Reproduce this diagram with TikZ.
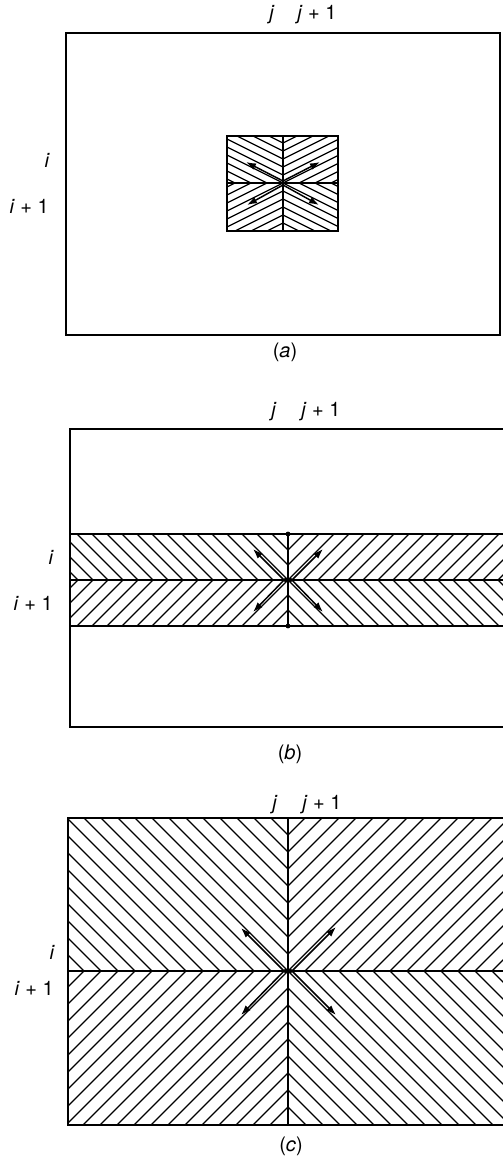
\documentclass[tikz,border=0pt]{standalone}
\usepackage{fontspec}
\setmainfont{TeX Gyre Heros}
\usetikzlibrary{arrows.meta}
\newcommand{\hatchq}[8]{%
  \begin{scope}
    \clip (#1,#2) rectangle ({#1+#3*#5},{#2+#4*#6});
    \pgfmathtruncatemacro\kmin{-floor(#7*#5/#8)-1}
    \pgfmathtruncatemacro\kmax{ceil(#6/#8)+1}
    \foreach \k in {\kmin,...,\kmax}{
      \draw[hatch] (#1,{#2+#4*\k*#8}) -- ({#1+#3*#5},{#2+#4*(\k*#8+#7*#5)});
    }
  \end{scope}}
\begin{document}
\begin{tikzpicture}[x=1pt,y=-1pt,
  frame/.style={draw,line width=1.7pt},
  hatch/.style={line width=1.2pt},
  axisline/.style={line width=1.4pt},
  flow/.style={line width=1.5pt,-{Latex[length=10pt,width=7pt]}},
  lab/.style={inner sep=0pt,font=\fontsize{20}{22}\selectfont},
  captext/.style={inner sep=0pt,font=\fontsize{20}{22}\selectfont}]
\useasboundingbox (0,0) rectangle (503,1159);
\begin{scope}
\clip (0,0) rectangle (503,1159);
% ---------- (a) ----------
\draw[frame] (66,33) rectangle (500,335);
\hatchq{283}{183}{-1}{-1}{56}{47}{0.5}{8}
\hatchq{283}{183}{1}{-1}{55}{47}{0.5}{8}
\hatchq{283}{183}{-1}{1}{56}{48}{0.5}{8}
\hatchq{283}{183}{1}{1}{55}{48}{0.5}{8}
\draw[frame] (227,136) rectangle (338,231);
\draw[axisline] (283,136) -- (283,231);
\draw[axisline] (227,183) -- (338,183);
\coordinate (ca) at (283,183);
\coordinate (aul) at (246,164);
\coordinate (aur) at (320,164);
\coordinate (all) at (247,203);
\coordinate (alr) at (319,203);
\draw[flow] ([shift={(0,-2)}]ca) -- ([shift={(0,-2)}]aul);
\draw[flow] ([shift={(0,-2)}]ca) -- ([shift={(0,-2)}]aur);
\draw[flow] ([shift={(0,2)}]ca) -- ([shift={(0,2)}]all);
\draw[flow] ([shift={(0,2)}]ca) -- ([shift={(0,2)}]alr);
\node[lab] (aj) at (272,15) {\textit{j}};
\node[lab] (aj1) at (317,15) {\textit{j} + 1};
\node[lab,anchor=east] (ai) at (50,160) {\textit{i}};
\node[lab,anchor=east] (ai1) at (49,206) {\textit{i} + 1};
\node[captext] (capa) at (285,352) {(\textit{a})};
% ---------- (b) ----------
\draw[frame] (530,429) -- (70,429) -- (70,727) -- (530,727);
\hatchq{288}{580}{-1}{-1}{218}{46}{1}{15}
\hatchq{288}{580}{1}{-1}{240}{46}{1}{15}
\hatchq{288}{580}{-1}{1}{218}{46}{1}{15}
\hatchq{288}{580}{1}{1}{240}{46}{1}{15}
\draw[frame] (530,534) -- (70,534) -- (70,626) -- (530,626);
\draw[axisline] (70,580) -- (530,580);
\draw[axisline] (288,534) -- (288,626);
\fill (288,534) circle (2.4);
\fill (288,626) circle (2.4);
\coordinate (cb) at (288,580);
\coordinate (bul) at (255,547);
\coordinate (bur) at (321,547);
\coordinate (bll) at (255,614);
\coordinate (blr) at (321,614);
\draw[flow] ([shift={(-2,2)}]cb) -- ([shift={(-2,2)}]bul);
\draw[flow] ([shift={(2,2)}]cb) -- ([shift={(2,2)}]bur);
\draw[flow] ([shift={(-2,-2)}]cb) -- ([shift={(-2,-2)}]bll);
\draw[flow] ([shift={(2,-2)}]cb) -- ([shift={(2,-2)}]blr);
\node[lab] (bj) at (274,412) {\textit{j}};
\node[lab] (bj1) at (321,412) {\textit{j} + 1};
\node[lab,anchor=east] (bi) at (54,557) {\textit{i}};
\node[lab,anchor=east] (bi1) at (53,603) {\textit{i} + 1};
\node[captext] (capb) at (290,754) {(\textit{b})};
% ---------- (c) ----------
\hatchq{288}{971}{-1}{-1}{220}{153}{1}{17}
\hatchq{288}{971}{1}{-1}{240}{153}{1}{17}
\hatchq{288}{971}{-1}{1}{220}{154}{1}{17}
\hatchq{288}{971}{1}{1}{240}{154}{1}{17}
\draw[frame] (530,818) -- (68,818) -- (68,1125) -- (530,1125);
\draw[axisline] (68,971) -- (530,971);
\draw[axisline] (288,818) -- (288,1125);
\coordinate (cc) at (288,971);
\coordinate (cul) at (243,926);
\coordinate (cur) at (334,925);
\coordinate (cll) at (243,1017);
\coordinate (clr) at (334,1017);
\draw[flow] ([shift={(-2,2)}]cc) -- ([shift={(-2,2)}]cul);
\draw[flow] ([shift={(2,2)}]cc) -- ([shift={(2,2)}]cur);
\draw[flow] ([shift={(-2,-2)}]cc) -- ([shift={(-2,-2)}]cll);
\draw[flow] ([shift={(2,-2)}]cc) -- ([shift={(2,-2)}]clr);
\node[lab] (cj) at (275,805) {\textit{j}};
\node[lab] (cj1) at (322,805) {\textit{j} + 1};
\node[lab,anchor=east] (ci) at (55,952) {\textit{i}};
\node[lab,anchor=east] (ci1) at (54,988) {\textit{i} + 1};
\node[captext] (capc) at (291,1146) {(\textit{c})};
\end{scope}
\end{tikzpicture}
\end{document}
